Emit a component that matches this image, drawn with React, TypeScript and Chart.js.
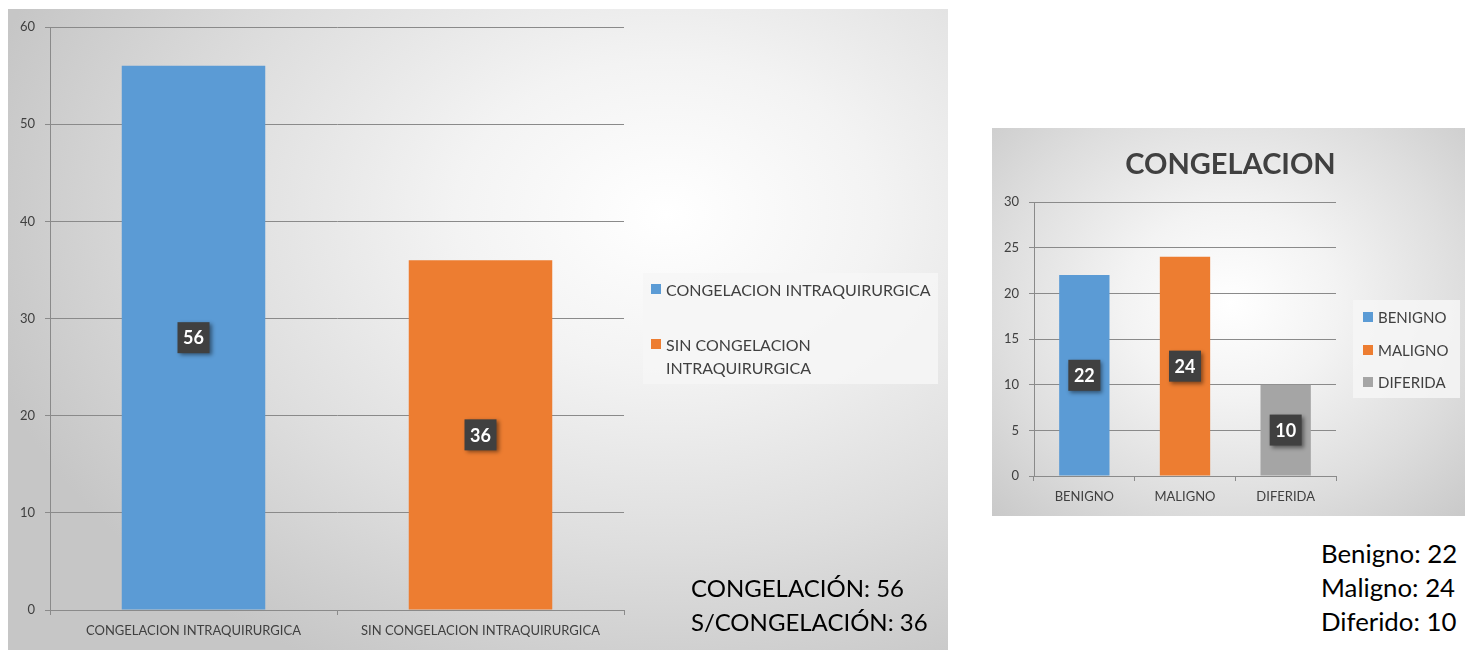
import React, { useEffect, useRef } from "react";
import { Chart, registerables } from "chart.js";

Chart.register(...registerables);

// ---------- Data ----------
const leftCategories = ["CONGELACION INTRAQUIRURGICA", "SIN CONGELACION INTRAQUIRURGICA"];
const leftValues = [56, 36];
const leftLegend = [["CONGELACION INTRAQUIRURGICA"], ["SIN CONGELACION", "INTRAQUIRURGICA"]];
const leftSummary = ["CONGELACIÓN: 56", "S/CONGELACIÓN: 36"];
const leftYTicks = { min: 0, max: 60, step: 10 };

const rightTitle = "CONGELACION";
const rightCategories = ["BENIGNO", "MALIGNO", "DIFERIDA"];
const rightValues = [22, 24, 10];
const rightLegend = ["BENIGNO", "MALIGNO", "DIFERIDA"];
const rightSummary = ["Benigno: 22", "Maligno: 24", "Diferido: 10"];
const rightYTicks = { min: 0, max: 30, step: 5 };

const palette = ["#5B9BD5", "#ED7D31", "#A5A5A5"];

const FONT = "Lato, 'Open Sans', sans-serif";
const GRID = "#8a8a8a";
const TXT = "#404040";

const valueBoxPlugin = {
  id: "valueBox",
  afterDatasetsDraw(chart: any) {
    const ctx = chart.ctx;
    const meta = chart.getDatasetMeta(0);
    meta.data.forEach((bar: any, i: number) => {
      const v = chart.data.datasets[0].data[i];
      const { x, y, base } = bar.getProps(["x", "y", "base"], true);
      const cy = (y + base) / 2;
      ctx.save();
      ctx.shadowColor = "rgba(0,0,0,0.45)";
      ctx.shadowBlur = 4;
      ctx.shadowOffsetX = 2;
      ctx.shadowOffsetY = 2;
      ctx.fillStyle = "#404040";
      ctx.fillRect(x - 16, cy - 15.5, 32, 31);
      ctx.restore();
      ctx.save();
      ctx.fillStyle = "#ffffff";
      ctx.font = `bold 18px ${FONT}`;
      ctx.textAlign = "center";
      ctx.textBaseline = "middle";
      ctx.fillText(String(v), x, cy + 1);
      ctx.restore();
    });
  },
};

const centeredTitlePlugin = {
  id: "centeredTitle",
  afterDraw(chart: any, _args: any, opts: any) {
    if (!opts || !opts.text) return;
    const ctx = chart.ctx;
    ctx.save();
    ctx.fillStyle = TXT;
    ctx.font = `bold 29px ${FONT}`;
    ctx.textAlign = "center";
    ctx.textBaseline = "middle";
    ctx.fillText(opts.text, chart.width / 2, opts.y);
    ctx.restore();
  },
};

function makeScales(yt: { min: number; max: number; step: number }, yWidth: number, xHeight: number) {
  return {
    x: {
      grid: { display: true, drawOnChartArea: false, drawTicks: true, tickLength: 5, color: GRID, offset: true },
      border: { color: GRID },
      ticks: { font: { family: FONT, size: 13 }, color: TXT, padding: 8, maxRotation: 0, autoSkip: false },
      afterFit: (s: any) => {
        s.height = xHeight;
      },
    },
    y: {
      min: yt.min,
      max: yt.max,
      grid: { color: GRID, tickLength: 5 },
      border: { color: GRID },
      ticks: { stepSize: yt.step, padding: 10, font: { family: FONT, size: 13 }, color: TXT },
      afterFit: (s: any) => {
        s.width = yWidth;
      },
    },
  };
}

function LeftChart() {
  const ref = useRef<HTMLCanvasElement | null>(null);
  useEffect(() => {
    if (!ref.current) return;
    const chart = new Chart(ref.current, {
      type: "bar",
      data: {
        labels: leftCategories,
        datasets: [
          {
            data: leftValues,
            backgroundColor: palette.slice(0, leftValues.length),
            categoryPercentage: 1,
            barPercentage: 0.5,
          },
        ],
      },
      options: {
        responsive: false,
        animation: false,
        layout: { padding: { top: 18, right: 324, bottom: 0, left: 0 } },
        plugins: { legend: { display: false }, tooltip: { enabled: false } },
        scales: makeScales(leftYTicks, 42, 40) as any,
      },
      plugins: [valueBoxPlugin],
    });
    return () => chart.destroy();
  }, []);
  return <canvas ref={ref} width={940} height={641} style={{ position: "absolute", left: 0, top: 0 }} />;
}

function RightChart() {
  const ref = useRef<HTMLCanvasElement | null>(null);
  useEffect(() => {
    if (!ref.current) return;
    const chart = new Chart(ref.current, {
      type: "bar",
      data: {
        labels: rightCategories,
        datasets: [
          {
            data: rightValues,
            backgroundColor: palette.slice(0, rightValues.length),
            categoryPercentage: 1,
            barPercentage: 0.5,
          },
        ],
      },
      options: {
        responsive: false,
        animation: false,
        layout: { padding: { top: 74, right: 133, bottom: 0, left: 0 } },
        plugins: {
          legend: { display: false },
          tooltip: { enabled: false },
          centeredTitle: { text: rightTitle, y: 37 },
        } as any,
        scales: makeScales(rightYTicks, 42, 40) as any,
      },
      plugins: [valueBoxPlugin, centeredTitlePlugin],
    });
    return () => chart.destroy();
  }, []);
  return <canvas ref={ref} width={477} height={388} style={{ position: "absolute", left: 0, top: 0 }} />;
}

const sq = (c: string) => (
  <span style={{ display: "inline-block", width: 10, height: 10, background: c, marginRight: 5, flex: "none", marginTop: 6 }} />
);

export default function App() {
  return (
    <div style={{ position: "relative", width: 1465, height: 654, fontFamily: FONT }}>
      {/* Left panel */}
      <div
        style={{
          position: "absolute",
          left: 0,
          top: 1,
          width: 940,
          height: 641,
          background:
            "radial-gradient(ellipse 75% 80% at 70% 32%, #ffffff 0%, #f3f3f3 30%, #dedede 65%, #c6c6c6 100%)",
        }}
      >
        <LeftChart />
        <div
          style={{
            position: "absolute",
            left: 635,
            top: 264,
            width: 295,
            height: 111,
            background: "rgba(246,246,246,0.85)",
            boxSizing: "border-box",
            paddingLeft: 8,
            paddingTop: 5,
            color: TXT,
            fontSize: 16,
            lineHeight: "23px",
          }}
        >
          {leftLegend.map((lines, i) => (
            <div key={i} style={{ display: "flex", alignItems: "flex-start", marginBottom: i === 0 ? 32 : 0 }}>
              {sq(palette[i])}
              <div>
                {lines.map((l, j) => (
                  <div key={j}>{l}</div>
                ))}
              </div>
            </div>
          ))}
        </div>
        <div
          style={{ position: "absolute", left: 683, top: 562, fontSize: 24, lineHeight: "34px", color: "#000" }}
        >
          {leftSummary.map((t, i) => (
            <div key={i}>{t}</div>
          ))}
        </div>
      </div>

      {/* Right panel */}
      <div
        style={{
          position: "absolute",
          left: 984,
          top: 120,
          width: 477,
          height: 388,
          background:
            "radial-gradient(ellipse 75% 80% at 50% 45%, #ffffff 0%, #f3f3f3 30%, #dedede 65%, #c6c6c6 100%)",
        }}
      >
        <RightChart />
        <div
          style={{
            position: "absolute",
            left: 361,
            top: 172,
            width: 107,
            height: 98,
            background: "rgba(246,246,246,0.85)",
            boxSizing: "border-box",
            paddingLeft: 10,
            paddingTop: 1,
            color: TXT,
            fontSize: 15,
            lineHeight: "32.5px",
          }}
        >
          {rightLegend.map((t, i) => (
            <div key={i} style={{ display: "flex", alignItems: "center" }}>
              <span style={{ display: "inline-block", width: 10, height: 10, background: palette[i], marginRight: 5 }} />
              <span>{t}</span>
            </div>
          ))}
        </div>
      </div>
      <div
        style={{
          position: "absolute",
          left: 1313,
          top: 528,
          fontSize: 25.8,
          lineHeight: "34px",
          color: "#000",
          textAlign: "left",
        }}
      >
        {rightSummary.map((t, i) => (
          <div key={i}>{t}</div>
        ))}
      </div>
    </div>
  );
}
